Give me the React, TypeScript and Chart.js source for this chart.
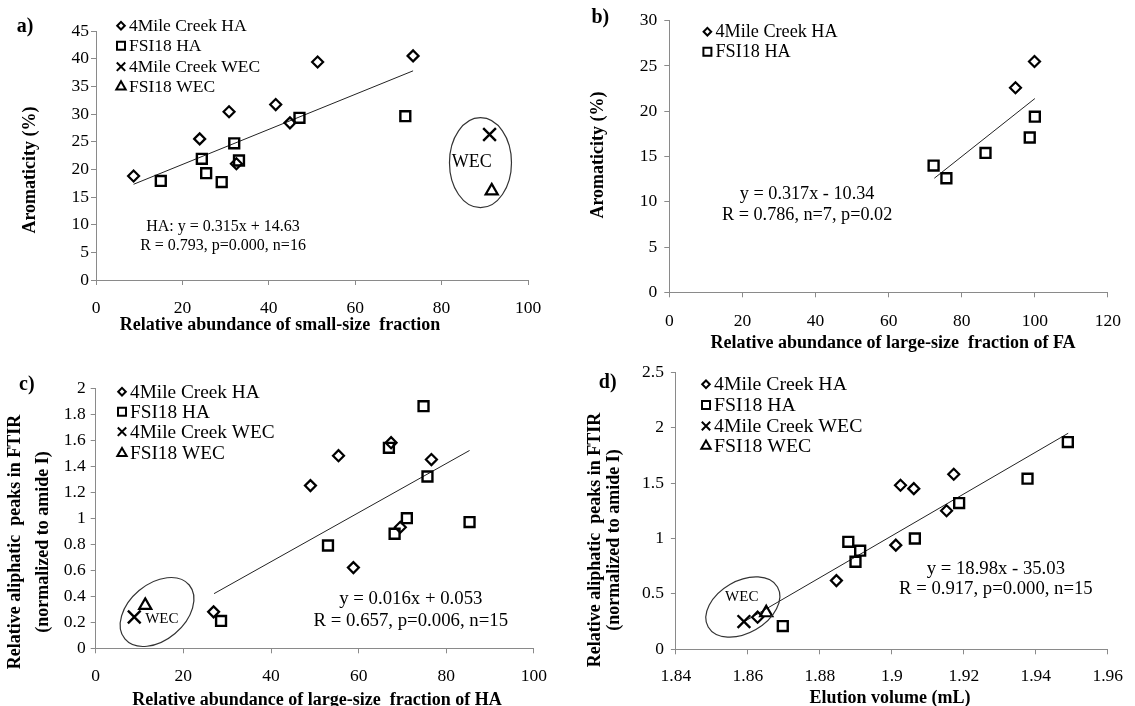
import React, { useEffect, useRef } from 'react';
import { Chart, registerables } from 'chart.js';

Chart.register(...registerables);

const SERIF = '"Liberation Serif", "Times New Roman", Times, serif';
const AXIS_GRAY = '#8a8a8a';

const legendLabels = ['4Mile Creek HA', 'FSI18 HA', '4Mile Creek WEC', 'FSI18 WEC'];
const legendStyles = ['rectRot', 'rect', 'crossRot', 'triangle'];

// ---------- Panel a ----------
const aCreekHAx = [8.7, 24.0, 30.8, 32.5, 41.6, 44.9, 51.3, 73.4];
const aCreekHAy = [18.8, 25.5, 30.4, 21.0, 31.7, 28.4, 39.4, 40.5];
const aFsiHAx = [15.0, 24.5, 25.5, 29.1, 32.0, 33.1, 47.1, 71.6];
const aFsiHAy = [17.9, 21.9, 19.3, 17.7, 24.7, 21.6, 29.3, 29.6];
const aCreekWECx = [91.1];
const aCreekWECy = [26.3];
const aFsiWECx = [91.6];
const aFsiWECy = [16.1];
const aFitX = [8.7, 73.4];
const aFitY = [17.3, 37.8];
const aEquation = ['HA: y = 0.315x + 14.63', 'R = 0.793, p=0.000, n=16'];

// ---------- Panel b ----------
const bCreekHAx = [94.7, 99.9];
const bCreekHAy = [22.6, 25.5];
const bFsiHAx = [72.3, 75.8, 86.5, 98.6, 100.0];
const bFsiHAy = [14.0, 12.6, 15.4, 17.1, 19.4];
const bFitX = [72.5, 100.0];
const bFitY = [12.6, 21.4];
const bEquation = ['y = 0.317x - 10.34', 'R = 0.786, n=7, p=0.02'];

// ---------- Panel c ----------
const cCreekHAx = [26.9, 49.0, 55.4, 58.8, 67.4, 69.5, 76.6];
const cCreekHAy = [0.28, 1.25, 1.48, 0.62, 1.58, 0.93, 1.45];
const cFsiHAx = [28.6, 53.0, 66.9, 68.2, 71.0, 74.8, 75.7, 85.3];
const cFsiHAy = [0.21, 0.79, 1.54, 0.88, 1.0, 1.86, 1.32, 0.97];
const cCreekWECx = [8.8];
const cCreekWECy = [0.24];
const cFsiWECx = [11.3];
const cFsiWECy = [0.33];
const cFitX = [27.0, 85.3];
const cFitY = [0.42, 1.52];
const cEquation = ['y = 0.016x + 0.053', 'R = 0.657, p=0.006, n=15'];

// ---------- Panel d ----------
const dCreekHAx = [1.8627, 1.8846, 1.9011, 1.9024, 1.9061, 1.9152, 1.9172];
const dCreekHAy = [0.29, 0.62, 0.94, 1.48, 1.45, 1.25, 1.58];
const dFsiHAx = [1.8697, 1.8879, 1.8899, 1.8912, 1.9064, 1.9187, 1.9377, 1.9489];
const dFsiHAy = [0.21, 0.97, 0.79, 0.89, 1.0, 1.32, 1.54, 1.87];
const dCreekWECx = [1.8589];
const dCreekWECy = [0.25];
const dFsiWECx = [1.8651];
const dFsiWECy = [0.33];
const dFitX = [1.859, 1.949];
const dFitY = [0.25, 1.95];
const dEquation = ['y = 18.98x - 35.03', 'R = 0.917, p=0.000, n=15'];

const pts = (xs: number[], ys: number[]) => xs.map((x, i) => ({ x, y: ys[i] }));

const markerDs = (xs: number[], ys: number[], style: string, r: number, bw: number) => ({
  data: pts(xs, ys),
  showLine: false,
  pointStyle: style,
  pointRadius: r,
  pointHoverRadius: r,
  pointBorderColor: '#000',
  pointBackgroundColor: 'rgba(0,0,0,0)',
  pointBorderWidth: bw,
});

const fitDs = (xs: number[], ys: number[]) => ({
  data: pts(xs, ys),
  showLine: true,
  borderColor: '#222',
  borderWidth: 1,
  pointRadius: 0,
  pointHoverRadius: 0,
  fill: false,
});

const groupDatasets = (
  fit: any,
  creekHA: [number[], number[]],
  fsiHA: [number[], number[]],
  creekWEC?: [number[], number[]],
  fsiWEC?: [number[], number[]]
) => {
  const out: any[] = [];
  out.push(markerDs(creekHA[0], creekHA[1], 'rectRot', 5.5, 2.2));
  out.push(markerDs(fsiHA[0], fsiHA[1], 'rect', 7, 2.4));
  if (creekWEC) out.push(markerDs(creekWEC[0], creekWEC[1], 'crossRot', 9, 2.4));
  if (fsiWEC) out.push(markerDs(fsiWEC[0], fsiWEC[1], 'triangle', 7, 2.2));
  out.push(fit);
  return out;
};

type Spec = {
  left: number;
  top: number;
  width: number;
  height: number;
  area: { l: number; t: number; r: number; b: number };
  x: { min: number; max: number; step: number; pad: number; dec: number };
  y: { min: number; max: number; step: number; pad: number; dec: number };
  datasets: any[];
  label: { text: string; x: number; y: number };
  xTitle: { text: string; x: number; y: number };
  yTitle: { text: string; x: number; y: number }[];
  legend: { x: number; ys: number[]; size: number };
  eq: { lines: string[]; x: number; ys: number[]; size: number };
  ellipse?: { cx: number; cy: number; rx: number; ry: number; rot: number; tx: number; ty: number; size: number };
};

const specs: Spec[] = [
  {
    left: 0, top: 0, width: 560, height: 353,
    area: { l: 96, t: 31, r: 528, b: 280 },
    x: { min: 0, max: 100, step: 20, pad: 12.8, dec: 0 },
    y: { min: 0, max: 45, step: 5, pad: 2, dec: 0 },
    datasets: groupDatasets(fitDs(aFitX, aFitY), [aCreekHAx, aCreekHAy], [aFsiHAx, aFsiHAy], [aCreekWECx, aCreekWECy], [aFsiWECx, aFsiWECy]),
    label: { text: 'a)', x: 25, y: 27 },
    xTitle: { text: 'Relative abundance of small-size  fraction', x: 280, y: 325 },
    yTitle: [{ text: 'Aromaticity (%)', x: 30, y: 170 }],
    legend: { x: 121, ys: [25.7, 45.7, 66.7, 86.7], size: 17.5 },
    eq: { lines: aEquation, x: 29.4, ys: [9.62, 6.14], size: 16 },
    ellipse: { cx: 89.0, cy: 21.2, rx: 31, ry: 45, rot: 0, tx: 87.0, ty: 21.2, size: 18 },
  },
  {
    left: 560, top: 0, width: 575, height: 353,
    area: { l: 109.3, t: 20.7, r: 551.9, b: 292.3 },
    x: { min: 0, max: 120, step: 20, pad: 13.9, dec: 0 },
    y: { min: 0, max: 30, step: 5, pad: 7, dec: 0 },
    datasets: groupDatasets(fitDs(bFitX, bFitY), [bCreekHAx, bCreekHAy], [bFsiHAx, bFsiHAy]),
    label: { text: 'b)', x: 40.3, y: 18.3 },
    xTitle: { text: 'Relative abundance of large-size  fraction of FA', x: 333, y: 343 },
    yTitle: [{ text: 'Aromaticity (%)', x: 38.5, y: 155 }],
    legend: { x: 147.4, ys: [31.7, 51.7], size: 18.2 },
    eq: { lines: bEquation, x: 37.7, ys: [10.86, 8.46], size: 18.2 },
  },
  {
    left: 0, top: 353, width: 560, height: 353,
    area: { l: 95.7, t: 35, r: 543.6, b: 295.3 },
    x: { min: 0, max: 100, step: 20, pad: 12.9, dec: 0 },
    y: { min: 0, max: 2, step: 0.2, pad: 5, dec: 1 },
    datasets: groupDatasets(fitDs(cFitX, cFitY), [cCreekHAx, cCreekHAy], [cFsiHAx, cFsiHAy], [cCreekWECx, cCreekWECy], [cFsiWECx, cFsiWECy]),
    label: { text: 'c)', x: 26.8, y: 32 },
    xTitle: { text: 'Relative abundance of large-size  fraction of HA', x: 317, y: 347 },
    yTitle: [
      { text: 'Relative aliphatic  peaks in FTIR', x: 15.5, y: 189 },
      { text: '(normalized to amide I)', x: 43, y: 189 },
    ],
    legend: { x: 122, ys: [38.7, 58.7, 78.7, 100.3], size: 19.3 },
    eq: { lines: cEquation, x: 71.9, ys: [0.376, 0.21], size: 18.8 },
    ellipse: { cx: 14.0, cy: 0.279, rx: 42, ry: 28, rot: -40, tx: 15.1, ty: 0.223, size: 15 },
  },
  {
    left: 560, top: 353, width: 575, height: 353,
    area: { l: 115.9, t: 19.3, r: 555.9, b: 296.3 },
    x: { min: 1.84, max: 1.96, step: 0.02, pad: 11.9, dec: 2 },
    y: { min: 0, max: 2.5, step: 0.5, pad: 7, dec: 1 },
    datasets: groupDatasets(fitDs(dFitX, dFitY), [dCreekHAx, dCreekHAy], [dFsiHAx, dFsiHAy], [dCreekWECx, dCreekWECy], [dFsiWECx, dFsiWECy]),
    label: { text: 'd)', x: 47.7, y: 30.3 },
    xTitle: { text: 'Elution volume (mL)', x: 330, y: 345.3 },
    yTitle: [
      { text: 'Relative aliphatic  peaks in FTIR', x: 35, y: 187 },
      { text: '(normalized to amide I)', x: 54, y: 187 },
    ],
    legend: { x: 146, ys: [31.3, 52, 73, 93], size: 19.8 },
    eq: { lines: dEquation, x: 1.9289, ys: [0.722, 0.542], size: 18.7 },
    ellipse: { cx: 1.8586, cy: 0.382, rx: 40, ry: 26, rot: -30, tx: 1.8583, ty: 0.475, size: 15 },
  },
];

function drawMarker(ctx: CanvasRenderingContext2D, style: string, x: number, y: number) {
  ctx.beginPath();
  if (style === 'rectRot') {
    const r = 3.8;
    ctx.moveTo(x - r, y);
    ctx.lineTo(x, y - r);
    ctx.lineTo(x + r, y);
    ctx.lineTo(x, y + r);
    ctx.closePath();
  } else if (style === 'rect') {
    const r = 4;
    ctx.rect(x - r, y - r, 2 * r, 2 * r);
  } else if (style === 'crossRot') {
    const r = 4.2;
    ctx.moveTo(x - r, y - r);
    ctx.lineTo(x + r, y + r);
    ctx.moveTo(x + r, y - r);
    ctx.lineTo(x - r, y + r);
  } else {
    const r = 5.4;
    ctx.moveTo(x, y - r);
    ctx.lineTo(x + 0.866 * r, y + 0.5 * r);
    ctx.lineTo(x - 0.866 * r, y + 0.5 * r);
    ctx.closePath();
  }
  ctx.stroke();
}

function drawDecor(chart: any, s: Spec) {
  const ctx: CanvasRenderingContext2D = chart.ctx;
  const xs = chart.scales.x;
  const ys = chart.scales.y;
  ctx.save();
  ctx.fillStyle = '#000';
  ctx.strokeStyle = '#000';
  ctx.textBaseline = 'middle';
  ctx.textAlign = 'center';

  ctx.font = `bold 20px ${SERIF}`;
  ctx.fillText(s.label.text, s.label.x, s.label.y);

  ctx.font = `bold 18px ${SERIF}`;
  ctx.fillText(s.xTitle.text, s.xTitle.x, s.xTitle.y);
  s.yTitle.forEach((t) => {
    ctx.save();
    ctx.translate(t.x, t.y);
    ctx.rotate(-Math.PI / 2);
    ctx.fillText(t.text, 0, 0);
    ctx.restore();
  });

  // legend
  ctx.lineWidth = 2;
  ctx.font = `${s.legend.size}px ${SERIF}`;
  s.legend.ys.forEach((y, i) => {
    drawMarker(ctx, legendStyles[i], s.legend.x, y);
    ctx.textAlign = 'left';
    ctx.fillText(legendLabels[i], s.legend.x + 8, y + 1);
  });

  // equation
  ctx.textAlign = 'center';
  ctx.font = `${s.eq.size}px ${SERIF}`;
  const ex = xs.getPixelForValue(s.eq.x);
  s.eq.lines.forEach((line, i) => {
    ctx.fillText(line, ex, ys.getPixelForValue(s.eq.ys[i]));
  });

  // WEC ellipse
  if (s.ellipse) {
    const e = s.ellipse;
    ctx.strokeStyle = '#333';
    ctx.lineWidth = 1.2;
    ctx.beginPath();
    ctx.ellipse(xs.getPixelForValue(e.cx), ys.getPixelForValue(e.cy), e.rx, e.ry, (e.rot * Math.PI) / 180, 0, Math.PI * 2);
    ctx.stroke();
    ctx.font = `${e.size}px ${SERIF}`;
    ctx.fillText('WEC', xs.getPixelForValue(e.tx), ys.getPixelForValue(e.ty));
  }
  ctx.restore();
}

function axisOptions(a: { min: number; max: number; step: number; pad: number; dec: number }, fit: (sc: any) => void) {
  return {
    type: 'linear',
    min: a.min,
    max: a.max,
    ticks: {
      stepSize: a.step,
      padding: a.pad,
      color: '#000',
      font: { family: SERIF, size: 17.5 },
      callback: (v: number) => String(Math.round(v * Math.pow(10, a.dec)) / Math.pow(10, a.dec)),
    },
    grid: {
      display: true,
      drawOnChartArea: false,
      drawTicks: true,
      tickLength: 5,
      color: AXIS_GRAY,
      lineWidth: 1,
    },
    border: { display: true, color: AXIS_GRAY, width: 1 },
    title: { display: false },
    afterFit: fit,
  };
}

function Panel({ spec }: { spec: Spec }) {
  const ref = useRef<HTMLCanvasElement | null>(null);
  useEffect(() => {
    if (!ref.current) return;
    const s = spec;
    const chart = new Chart(ref.current, {
      type: 'scatter',
      data: { datasets: s.datasets },
      options: {
        animation: false,
        responsive: false,
        maintainAspectRatio: false,
        devicePixelRatio: 1,
        events: [],
        layout: { padding: { left: 0, top: s.area.t, right: s.width - s.area.r, bottom: 0 } },
        plugins: { legend: { display: false }, tooltip: { enabled: false } },
        scales: {
          x: axisOptions(s.x, (sc: any) => { sc.height = s.height - s.area.b; }),
          y: axisOptions(s.y, (sc: any) => { sc.width = s.area.l; }),
        },
      } as any,
      plugins: [{ id: 'decor', afterDraw: (c: any) => drawDecor(c, s) }],
    });
    return () => chart.destroy();
  }, [spec]);
  return (
    <canvas
      ref={ref}
      width={spec.width}
      height={spec.height}
      style={{ position: 'absolute', left: spec.left, top: spec.top, width: spec.width, height: spec.height }}
    />
  );
}

export default function App() {
  return (
    <div style={{ position: 'fixed', left: 0, top: 0, width: 1135, height: 706, background: '#fff', overflow: 'hidden' }}>
      {specs.map((s, i) => (
        <Panel key={i} spec={s} />
      ))}
    </div>
  );
}
